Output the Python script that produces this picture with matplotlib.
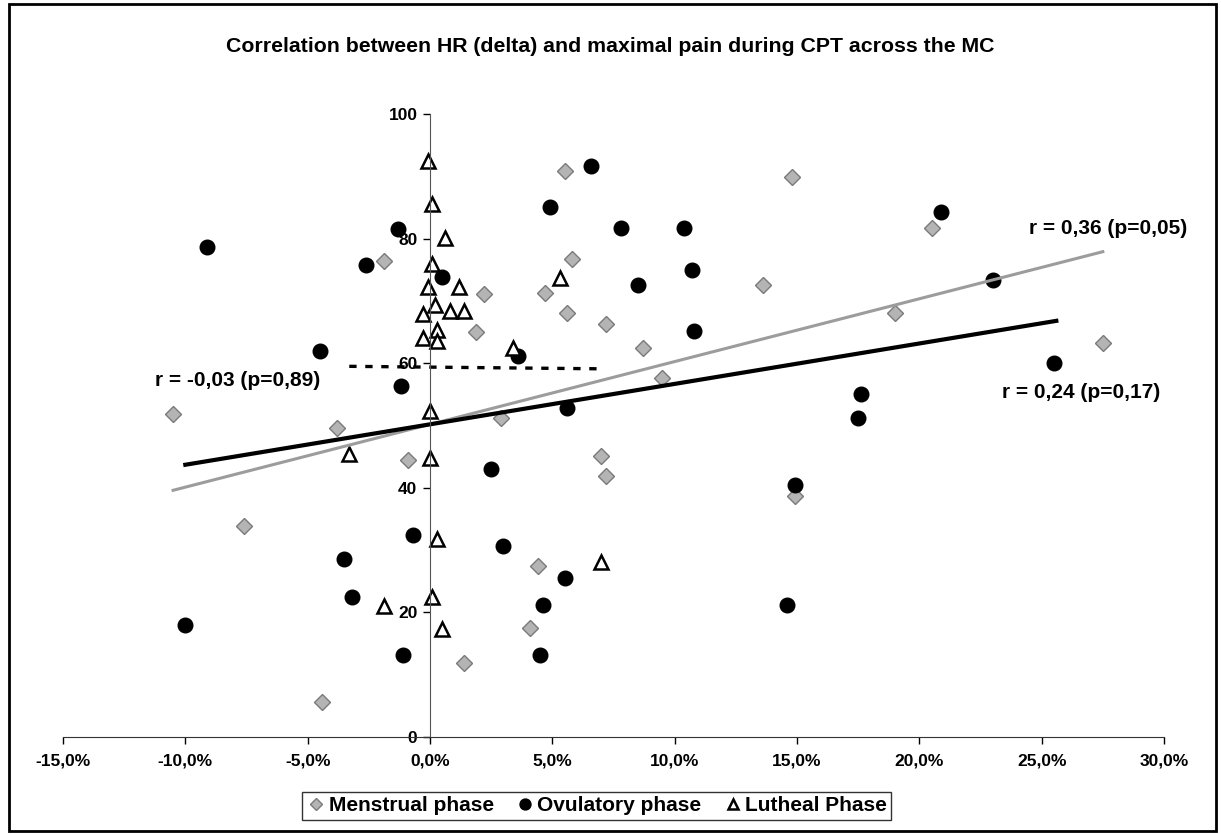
"""HR (delta) vs maximal pain during CPT, per menstrual-cycle phase."""

import matplotlib
matplotlib.use("Agg")
import matplotlib.pyplot as plt
from matplotlib.patches import Rectangle
from matplotlib.ticker import FuncFormatter, MultipleLocator

plt.rcParams["font.family"] = ["Liberation Sans Narrow", "Liberation Sans", "DejaVu Sans"]
plt.rcParams["font.weight"] = "bold"

# HR delta in %, maximal pain score
menstrual_x = [5.5, -1.9, 5.8, 2.2, 4.7, 5.6, 7.2, 1.9, -10.5, 2.9, 14.8, 20.5, 13.6, 19.0,
               8.7, 27.5, 9.5, -3.8, -0.9, 7.0, 7.2, -7.6, 4.4, 4.1, 1.4, -4.4, 14.9]
menstrual_y = [90.8, 76.4, 76.7, 71.1, 71.2, 68.0, 66.3, 65.0, 51.8, 51.2, 89.9, 81.7, 72.5, 68.1,
               62.4, 63.2, 57.6, 49.6, 44.5, 45.1, 41.9, 33.8, 27.5, 17.5, 11.8, 5.6, 38.7]

ovulatory_x = [-9.1, -1.3, -2.6, 0.5, 6.6, 4.9, 7.8, -4.5, 3.6, -1.2, 5.6, 10.4, 20.9, 10.7,
               8.5, 10.8, 23.0, 25.5, 17.6, 17.5, 2.5, -0.7, 3.0, -3.5, 5.5, -3.2, 4.6, -10.0,
               -1.1, 4.5, 14.9, 14.6]
ovulatory_y = [78.7, 81.5, 75.8, 73.8, 91.7, 85.0, 81.7, 61.9, 61.2, 56.3, 52.8, 81.7, 84.3, 75.0,
               72.5, 65.1, 73.4, 60.1, 55.0, 51.2, 43.0, 32.5, 30.6, 28.6, 25.6, 22.4, 21.2, 18.0,
               13.1, 13.1, 40.5, 21.2]

luteal_x = [-0.1, 0.1, 0.6, 0.1, -0.1, 1.2, 0.2, -0.3, 0.8, 1.4, 0.3, -0.3, 0.3, 5.3, 3.4,
            0.0, -3.3, 0.0, 0.3, 7.0, 0.1, -1.9, 0.5]
luteal_y = [92.4, 85.6, 80.1, 76.0, 72.3, 72.3, 69.3, 67.9, 68.4, 68.4, 65.4, 64.0, 63.6, 73.6, 62.4,
            52.3, 45.5, 44.8, 31.8, 28.1, 22.4, 21.1, 17.4]

# trend line end points as drawn in the original
menstrual_fit_x = [-10.5, 27.5]
menstrual_fit_y = [39.6, 77.9]
ovulatory_fit_x = [-10.0, 25.6]
ovulatory_fit_y = [43.7, 66.8]
luteal_fit_x = [-3.3, 7.0]
luteal_fit_y = [59.5, 59.1]

fig = plt.figure(figsize=(12.21, 8.34), dpi=100)
ax = fig.add_axes([0.0516, 0.1163, 0.9017, 0.747])

ax.plot(menstrual_x, menstrual_y, "D", ms=8, mfc="#b4b4b4", mec="#7a7a7a", mew=1.0,
        ls="none", label="Menstrual phase")
ax.plot(ovulatory_x, ovulatory_y, "o", ms=10.5, color="black", ls="none", label="Ovulatory phase")
ax.plot(luteal_x, luteal_y, "^", ms=10, mfc="white", mec="black", mew=1.8,
        ls="none", label="Lutheal Phase")

ax.plot(menstrual_fit_x, menstrual_fit_y, color="#9c9c9c", lw=2.2)
ax.plot(ovulatory_fit_x, ovulatory_fit_y, color="black", lw=3.0)
ax.plot(luteal_fit_x, luteal_fit_y, color="black", lw=2.4, ls=(0, (2.2, 2.6)))

ax.set_xlim(-15, 30)
ax.set_ylim(0, 100)
ax.xaxis.set_major_locator(MultipleLocator(5))
ax.yaxis.set_major_locator(MultipleLocator(20))
ax.xaxis.set_major_formatter(FuncFormatter(lambda v, p: f"{v:.1f}%".replace(".", ",")))

for side in ("top", "right"):
    ax.spines[side].set_visible(False)
ax.spines["left"].set_position(("data", 0))
ax.spines["left"].set_color("#555555")
ax.spines["bottom"].set_color("#333333")
ax.tick_params(axis="x", direction="out", length=5, width=1, pad=7, labelsize=12.5)
ax.tick_params(axis="y", direction="out", length=5, width=1, pad=4, labelsize=12.5)

fig.text(0.5, 0.944, "Correlation between HR (delta) and maximal pain during CPT across the MC",
         ha="center", va="center", fontsize=15.3, fontweight="bold")

fig.text(1187 / 1221, 1 - 228 / 834, "r = 0,36 (p=0,05)", ha="right", va="center",
         fontsize=15, fontweight="bold")
fig.text(1160 / 1221, 1 - 393 / 834, "r = 0,24 (p=0,17)", ha="right", va="center",
         fontsize=15, fontweight="bold")
fig.text(155 / 1221, 1 - 380 / 834, "r = -0,03 (p=0,89)", ha="left", va="center",
         fontsize=15, fontweight="bold")

leg = fig.legend(loc="center", bbox_to_anchor=(0.4885, 0.0336), ncol=3, frameon=True,
                 fancybox=False, edgecolor="black", fontsize=15, handletextpad=0.1,
                 columnspacing=1.0, borderpad=0.2, handlelength=1.0, markerscale=0.75)
leg.get_frame().set_linewidth(1.0)

fig.patches.append(Rectangle((0.007, 0.003), 0.989, 0.992, transform=fig.transFigure,
                             fill=False, edgecolor="black", lw=2))

fig.savefig("out.png", dpi=100)
